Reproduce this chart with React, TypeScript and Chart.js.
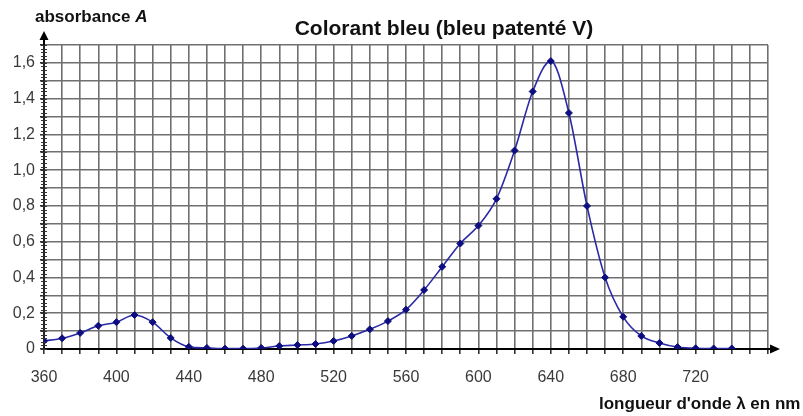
import React, { useEffect, useRef } from "react";
import { Chart, registerables } from "chart.js";
Chart.register(...registerables);

const wavelengths = [360, 370, 380, 390, 400, 410, 420, 430, 440, 450, 460, 470, 480, 490, 500, 510, 520, 530, 540, 550, 560, 570, 580, 590, 600, 610, 620, 630, 640, 650, 660, 670, 680, 690, 700, 710, 720, 730, 740];
const absorbance = [0.045, 0.06, 0.09, 0.13, 0.15, 0.19, 0.15, 0.062, 0.012, 0.006, 0.002, 0.002, 0.006, 0.017, 0.022, 0.028, 0.045, 0.073, 0.11, 0.156, 0.22, 0.33, 0.46, 0.59, 0.69, 0.84, 1.11, 1.44, 1.61, 1.32, 0.8, 0.4, 0.18, 0.073, 0.034, 0.011, 0.004, 0.003, 0.003];
const xTickLabels = [360, 400, 440, 480, 520, 560, 600, 640, 680, 720];
const yTickLabels = [0, 0.2, 0.4, 0.6, 0.8, 1.0, 1.2, 1.4, 1.6];

const X_MIN = 360, X_MAX = 760, X_STEP = 10;
const Y_MIN = 0, Y_MAX = 1.7, Y_STEP = 0.1, Y_MINOR = 0.02;

const FONT = "'Liberation Sans', Arial, sans-serif";

const decorPlugin = {
  id: "decor",
  afterDraw(chart: any) {
    const ctx = chart.ctx as CanvasRenderingContext2D;
    const xs = chart.scales.x;
    const ys = chart.scales.y;
    const ax = xs.getPixelForValue(X_MIN);
    const ay = ys.getPixelForValue(Y_MIN);
    const top = ys.getPixelForValue(Y_MAX);
    const right = xs.getPixelForValue(X_MAX);
    ctx.save();
    ctx.strokeStyle = "#000";
    ctx.fillStyle = "#000";
    ctx.lineWidth = 2;
    ctx.beginPath();
    ctx.moveTo(ax, top);
    ctx.lineTo(ax, top - 6);
    ctx.stroke();
    ctx.beginPath();
    ctx.moveTo(ax, top - 14);
    ctx.lineTo(ax - 4.5, top - 5);
    ctx.lineTo(ax + 4.5, top - 5);
    ctx.closePath();
    ctx.fill();
    ctx.beginPath();
    ctx.moveTo(right, ay);
    ctx.lineTo(right + 2, ay);
    ctx.stroke();
    ctx.beginPath();
    ctx.moveTo(right + 12, ay);
    ctx.lineTo(right + 2, ay - 4.5);
    ctx.lineTo(right + 2, ay + 4.5);
    ctx.closePath();
    ctx.fill();
    ctx.lineWidth = 1;
    ctx.strokeStyle = "#333";
    const n = Math.round((Y_MAX - Y_MIN) / Y_MINOR);
    for (let i = 0; i <= n; i++) {
      const py = Math.round(ys.getPixelForValue(Y_MIN + i * Y_MINOR)) + 0.5;
      ctx.beginPath();
      ctx.moveTo(ax - 3, py);
      ctx.lineTo(ax + 3, py);
      ctx.stroke();
    }
    ctx.fillStyle = "#111";
    ctx.textBaseline = "middle";
    ctx.textAlign = "center";
    ctx.font = `bold 21px ${FONT}`;
    ctx.fillText("Colorant bleu (bleu patenté V)", 444, 29);
    ctx.textAlign = "left";
    ctx.font = `bold 17px ${FONT}`;
    const t1 = "absorbance ";
    ctx.fillText(t1, 35, 17);
    const w1 = ctx.measureText(t1).width;
    ctx.font = `italic bold 17px ${FONT}`;
    ctx.fillText("A", 35 + w1, 17);
    ctx.font = `bold 17px ${FONT}`;
    ctx.fillText("longueur d'onde λ en nm", 599, 404);
    ctx.restore();
  },
};

export default function App() {
  const ref = useRef<HTMLCanvasElement | null>(null);
  useEffect(() => {
    if (!ref.current) return;
    const points = wavelengths.map((w, i) => ({ x: w, y: absorbance[i] }));
    const chart = new Chart(ref.current, {
      type: "line",
      data: {
        datasets: [
          {
            data: points,
            borderColor: "#2a2aa6",
            borderWidth: 1.6,
            pointStyle: "rectRot",
            pointRadius: 3.5,
            pointBackgroundColor: "#0d0d80",
            pointBorderColor: "#0d0d80",
            pointBorderWidth: 1,
            cubicInterpolationMode: "monotone",
            fill: false,
          } as any,
        ],
      },
      options: {
        animation: false,
        responsive: true,
        maintainAspectRatio: false,
        layout: { padding: { top: 45, right: 35, left: 0, bottom: 0 } },
        plugins: { legend: { display: false }, tooltip: { enabled: false }, title: { display: false } },
        scales: {
          x: {
            type: "linear",
            min: X_MIN,
            max: X_MAX,
            afterBuildTicks: (scale: any) => {
              const t = [];
              for (let v = X_MIN; v <= X_MAX; v += X_STEP) t.push({ value: v });
              scale.ticks = t;
            },
            afterFit: (scale: any) => {
              scale.height = 67;
            },
            ticks: {
              autoSkip: false,
              maxRotation: 0,
              padding: 14,
              color: "#3a3a3a",
              font: { family: FONT, size: 16 },
              callback: (v: any) => (xTickLabels.includes(Number(v)) ? String(v) : ""),
            },
            grid: { color: "#707070", lineWidth: 1.6, tickLength: 5, tickColor: "#333" },
            border: { display: true, color: "#000", width: 2 },
          },
          y: {
            type: "linear",
            min: Y_MIN,
            max: Y_MAX,
            afterBuildTicks: (scale: any) => {
              const t = [];
              const n = Math.round((Y_MAX - Y_MIN) / Y_STEP);
              for (let i = 0; i <= n; i++) t.push({ value: Math.round((Y_MIN + i * Y_STEP) * 100) / 100 });
              scale.ticks = t;
            },
            afterFit: (scale: any) => {
              scale.width = 44;
            },
            ticks: {
              autoSkip: false,
              padding: 5,
              color: "#3a3a3a",
              font: { family: FONT, size: 16 },
              callback: (v: any) => {
                const found = yTickLabels.find((l) => Math.abs(l - Number(v)) < 1e-6);
                if (found === undefined) return "";
                return found === 0 ? "0" : found.toFixed(1).replace(".", ",");
              },
            },
            grid: { color: "#707070", lineWidth: 1.6, tickLength: 4, tickColor: "#333" },
            border: { display: true, color: "#222", width: 2 },
          },
        },
      },
      plugins: [decorPlugin],
    });
    return () => chart.destroy();
  }, []);
  return (
    <div style={{ position: "absolute", left: 0, top: 0, width: 803, height: 416, background: "#fff" }}>
      <canvas ref={ref} />
    </div>
  );
}
